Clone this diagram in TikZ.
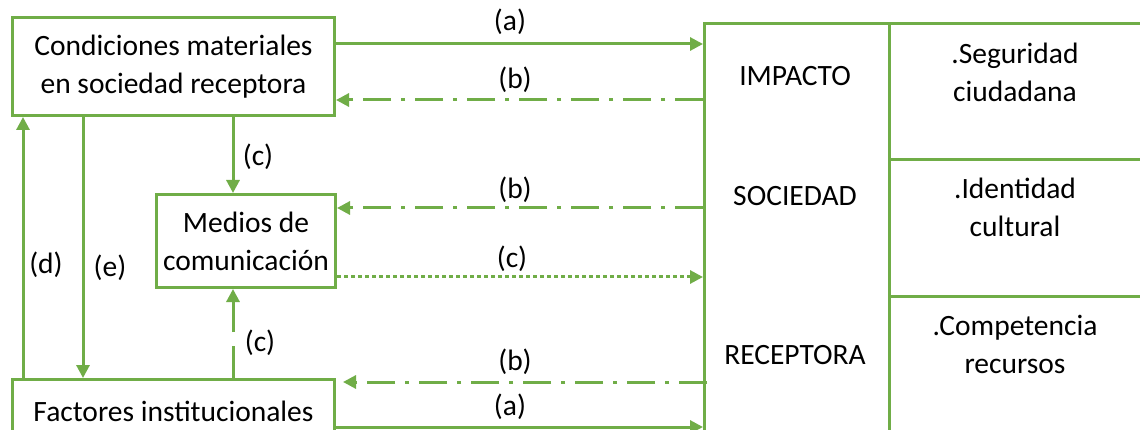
\documentclass[tikz,border=0pt]{standalone}
\usepackage{fontspec}
\setmainfont{Carlito}
\usetikzlibrary{arrows.meta,calc}
\definecolor{grn}{HTML}{70AD47}
\begin{document}
\begin{tikzpicture}[x=1pt,y=-1pt,
  font=\fontsize{29.5}{38}\selectfont,
  box/.style={draw=grn, line width=3pt, inner sep=0pt, align=center, anchor=north west},
  arr/.style={draw=grn, line width=3pt, -{Triangle[length=13pt,width=13pt]}},
  dashdotline/.style={dash pattern=on 28pt off 10pt on 4pt off 10pt},
  dotline/.style={dash pattern=on 4pt off 3pt},
  longdash/.style={dash pattern=on 32pt off 14pt},
  lab/.style={inner sep=0pt, align=center}]
\useasboundingbox (0,0) rectangle (1140,430);
\clip (0,0) rectangle (1140,430);
\fill[white] (0,0) rectangle (1140,430);
% boxes
\node[box, minimum width=322pt, minimum height=98pt] (cond) at (11,16) {Condiciones materiales\\en sociedad receptora};
\node[box, minimum width=179pt, minimum height=93pt] (med) at (155,193) {Medios de\\comunicación};
\node[box, minimum width=322pt, minimum height=64pt] (fact) at (11,378) {Factores institucionales};
\node[box, minimum width=185pt, minimum height=440pt] (col) at (703,22) {};
\node[box, minimum width=270pt, minimum height=136pt] (cA) at (888,22) {};
\node[box, minimum width=270pt, minimum height=137pt] (cB) at (888,158) {};
\node[box, minimum width=270pt, minimum height=160pt] (cC) at (888,295) {};
% texts in column
\node[lab] (t1) at (795,76) {IMPACTO};
\node[lab] (t2) at (795,196) {SOCIEDAD};
\node[lab] (t3) at (795,355) {RECEPTORA};
\node[lab] (s1) at (1015,72) {.Seguridad\\ciudadana};
\node[lab] (s2) at (1015,207) {.Identidad\\cultural};
\node[lab] (s3) at (1015,344) {.Competencia\\recursos};
% level coordinates
\coordinate (ya1) at (0,44);
\coordinate (yb1) at (0,100);
\coordinate (yb2) at (0,208);
\coordinate (yc) at (0,277);
\coordinate (yb3) at (0,382);
\coordinate (ya2) at (0,427);
\coordinate (xd) at (23,0);
\coordinate (xe) at (83,0);
\coordinate (xc) at (233,0);
% horizontal connectors
\draw[arr] (cond.east |- ya1) -- (col.west |- ya1);
\draw[arr, dashdotline] (col.west |- yb1) -- (cond.east |- yb1);
\draw[arr, dashdotline] (col.west |- yb2) -- (med.east |- yb2);
\draw[arr, dotline] (med.east |- yc) -- (col.west |- yc);
\draw[arr, dashdotline] ([xshift=4pt]col.west |- yb3) -- ([xshift=7pt]fact.east |- yb3);
\draw[arr] (fact.east |- ya2) -- (col.west |- ya2);
% vertical connectors
\draw[arr] (fact.north -| xd) -- (cond.south -| xd);
\draw[arr] (cond.south -| xe) -- (fact.north -| xe);
\draw[arr] (cond.south -| xc) -- (med.north -| xc);
\draw[arr, longdash] (fact.north -| xc) -- (med.south -| xc);
% labels
\node[lab] (la1) at (510,22) {(a)};
\node[lab] (lb1) at (515,80) {(b)};
\node[lab] (lb2) at (515,190) {(b)};
\node[lab] (lc) at (512,259) {(c)};
\node[lab] (lb3) at (515,362) {(b)};
\node[lab] (la2) at (510,407) {(a)};
\node[lab] (lc1) at (258,157) {(c)};
\node[lab] (lc2) at (260,343) {(c)};
\node[lab] (ld) at (46,265) {(d)};
\node[lab] (le) at (110,268) {(e)};
\end{tikzpicture}
\end{document}
